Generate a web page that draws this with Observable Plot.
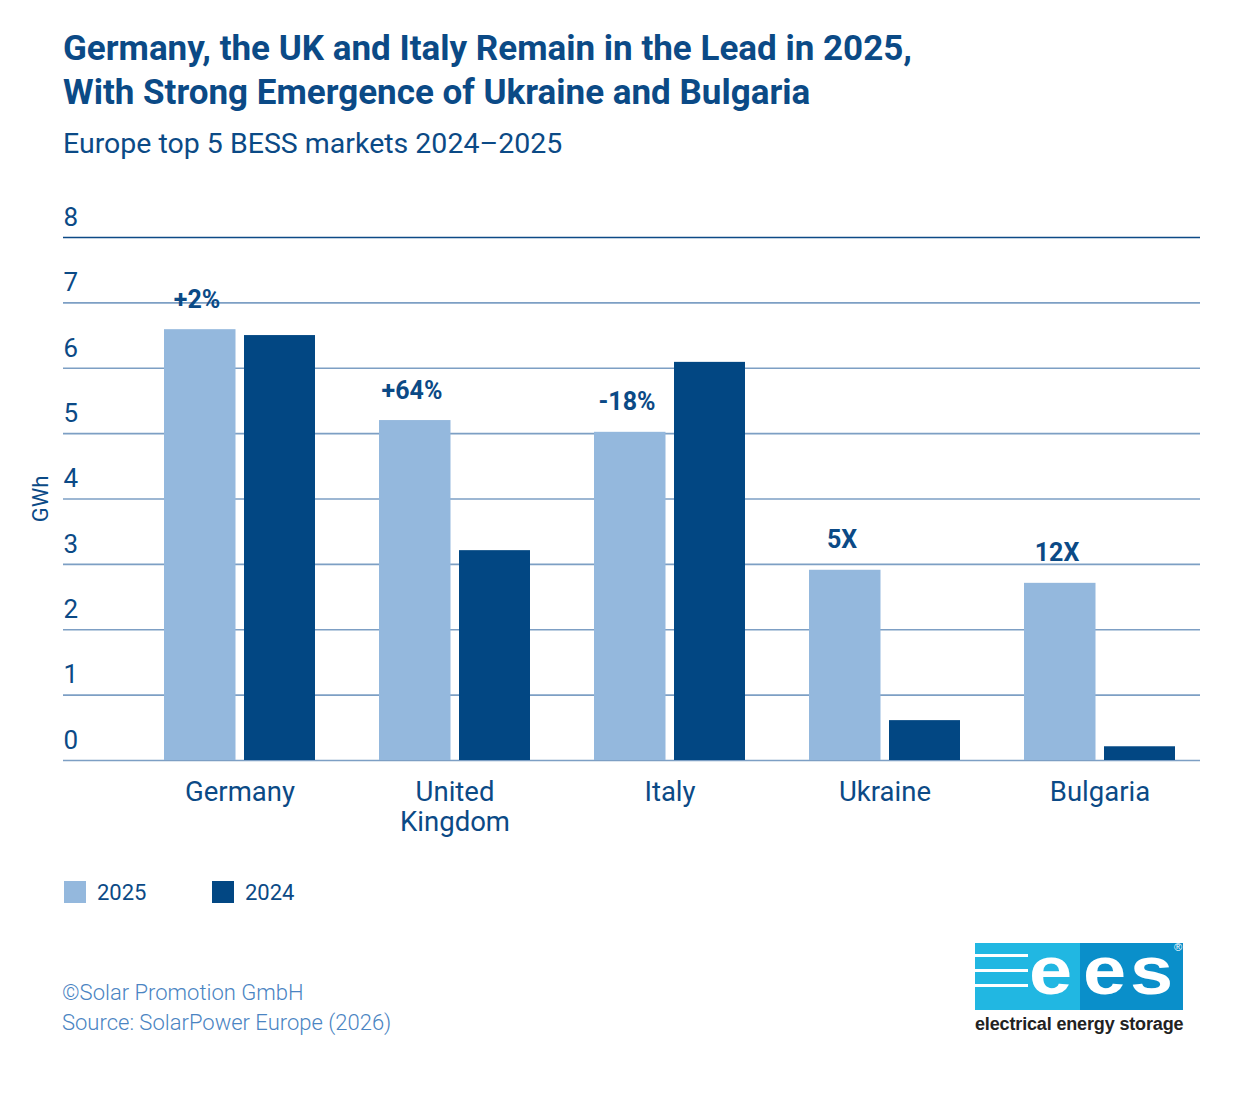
<!DOCTYPE html>
<html><head><meta charset="utf-8">
<script src="https://cdn.jsdelivr.net/npm/d3@7"></script>
<script src="https://cdn.jsdelivr.net/npm/@observablehq/plot@0.6"></script>
<style>
body{margin:0;background:#fff;font-family:Roboto,"Open Sans",sans-serif;}
#wrap{position:relative;width:1234px;height:1093px;overflow:hidden;background:#fff;}
#title{position:absolute;left:63px;top:27px;font-size:35px;line-height:44px;font-weight:700;color:#0b4a86;white-space:nowrap;}
#subtitle{position:absolute;left:63px;top:127px;font-size:28.5px;line-height:34px;font-weight:400;color:#0b4a86;white-space:nowrap;}
#chart{position:absolute;left:0;top:200px;}
.leg{position:absolute;top:881px;height:22px;display:flex;align-items:center;font-size:22px;color:#0b4a86;}
.leg span.sw{display:inline-block;width:22px;height:22px;margin-right:11px;}
#footer{position:absolute;left:62px;top:978px;font-size:22px;line-height:30px;font-weight:300;color:#4a84c2;white-space:nowrap;}
#logo{position:absolute;left:975px;top:943px;width:208px;height:67px;background:#0a8fca;}
#logo .l{position:absolute;left:0;top:0;width:105px;height:67px;background:#21b7e2;}
#logo .s{position:absolute;left:0;width:53px;height:3px;background:#fff;}
#logo .t{position:absolute;top:9px;color:#fff;font-family:"Liberation Sans",Arial,sans-serif;font-weight:700;font-size:68px;line-height:36px;transform:scaleX(1.14);transform-origin:left center;}
#logo .r{position:absolute;right:1px;top:-1px;color:#fff;font-family:"Liberation Sans",Arial,sans-serif;font-size:11px;line-height:10px;}
#logotext{position:absolute;left:975px;top:1013px;width:210px;font-family:"Liberation Sans",Arial,sans-serif;font-weight:700;font-size:18px;line-height:22px;color:#222;white-space:nowrap;letter-spacing:-0.15px;}
</style></head><body>
<div id="wrap">
  <div id="title">Germany, the UK and Italy Remain in the Lead in 2025,<br>With Strong Emergence of Ukraine and Bulgaria</div>
  <div id="subtitle">Europe top 5 BESS markets 2024–2025</div>
  <div id="chart"></div>
  <div class="leg" style="left:64px"><span class="sw" style="background:#94b8dd"></span>2025</div>
  <div class="leg" style="left:212px"><span class="sw" style="background:#024783"></span>2024</div>
  <div id="footer">©Solar Promotion GmbH<br>Source: SolarPower Europe (2026)</div>
  <div id="logo">
    <div class="l"></div>
    <div class="s" style="top:11px"></div>
    <div class="s" style="top:26px"></div>
    <div class="s" style="top:41px"></div>
    <div class="t" style="left:54px">e</div>
    <div class="t" style="left:108px">e</div>
    <div class="t" style="left:155px">s</div>
    <div class="r">®</div>
  </div>
  <div id="logotext">electrical energy storage</div>
</div>
<script>
const countries = ["Germany", "United Kingdom", "Italy", "Ukraine", "Bulgaria"];
const values2025 = [6.59, 5.20, 5.02, 2.91, 2.71];
const values2024 = [6.50, 3.21, 6.09, 0.61, 0.21];
const growthLabels = ["+2%", "+64%", "-18%", "5X", "12X"];
const yTicks = [0, 1, 2, 3, 4, 5, 6, 7, 8];
const yLabel = "GWh";

const data = countries.map((c, i) => ({country: c, v2025: values2025[i], v2024: values2024[i], growth: growthLabels[i]}));

const plot = Plot.plot({
  width: 1234, height: 660,
  marginLeft: 63, marginRight: 34, marginTop: 37, marginBottom: 100,
  style: {fontFamily: "Roboto, 'Open Sans', sans-serif", color: "#0b4a86", background: "transparent", overflow: "visible"},
  x: {domain: countries, paddingInner: 0.3, paddingOuter: 0.294, align: 0.8, axis: null},
  y: {domain: [0, 8], axis: null},
  marks: [
    Plot.ruleY(yTicks.filter(d => d < 8), {stroke: "#7d9fc4", strokeWidth: 1.6}),
    Plot.ruleY(yTicks.filter(d => d === 8), {stroke: "#0d4a86", strokeWidth: 1.6}),
    Plot.barY(data, {x: "country", y: "v2025", fill: "#94b8dd", insetRight: 79.5}),
    Plot.barY(data, {x: "country", y: "v2024", fill: "#024783", insetLeft: 80}),
    Plot.text(data, {x: "country", y: "v2025", text: "growth", dx: -43, dy: -30, fontSize: 25, fontWeight: 700, fill: "#0b4a86"}),
    Plot.axisY(yTicks, {anchor: "left", tickSize: 0, tickPadding: 0, textAnchor: "start", dy: -20, fontSize: 26, label: null, fill: "#0b4a86", tickFormat: d3.format("d")}),
    Plot.axisX({tickSize: 0, tickPadding: 19, fontSize: 27.5, lineHeight: 1.1, label: null, fill: "#0b4a86",
      tickFormat: d => d === "United Kingdom" ? "United\nKingdom" : d}),
    Plot.text([yLabel], {frameAnchor: "left", textAnchor: "middle", rotate: -90, dx: -23, fontSize: 22, fill: "#0b4a86", text: d => d})
  ]
});
document.getElementById("chart").appendChild(plot);
</script>
</body></html>
